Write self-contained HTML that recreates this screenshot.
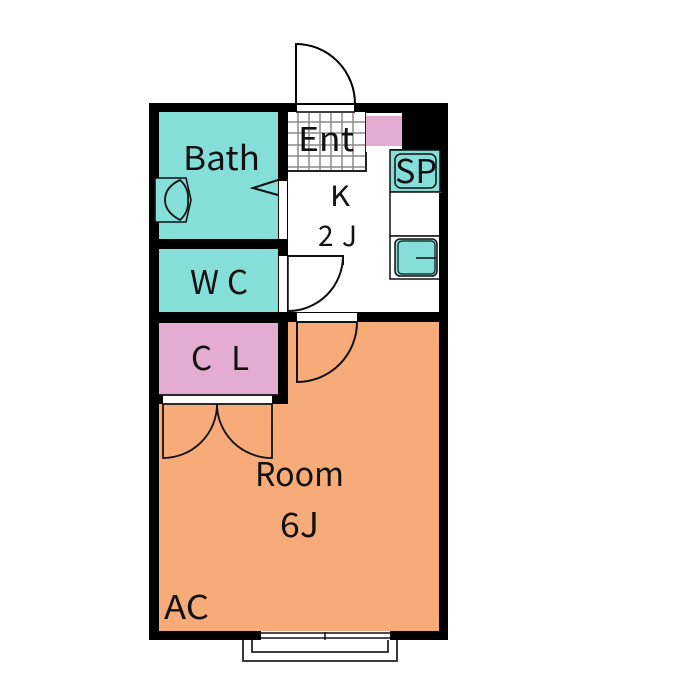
<!DOCTYPE html>
<html><head><meta charset="utf-8"><style>
html,body{margin:0;padding:0;background:#fff}
svg{display:block}
text{font-family:"Noto Sans CJK JP","Liberation Sans",sans-serif;fill:#111;text-anchor:middle}
</style></head><body>
<svg width="700" height="700" viewBox="0 0 700 700" xmlns="http://www.w3.org/2000/svg">
<rect x="149" y="103" width="299" height="537" fill="#000"/>
<rect x="159" y="112" width="119" height="127" fill="#85dfd8"/>
<rect x="159" y="249" width="119" height="63" fill="#85dfd8"/>
<path d="M159 404H288V322H439V631H159Z" fill="#f6ab78"/>
<rect x="159" y="323" width="119" height="72" fill="#e4acd0"/>
<path d="M288 112H366V150H390V239H439V312H288Z" fill="#fff"/>
<rect x="402" y="112" width="37" height="38" fill="#000"/>
<rect x="288" y="112" width="78" height="59" fill="#fff"/>
<g stroke="#8c8c8c" stroke-width="1.5" fill="none">
<path d="M298 112V171M309 112V171M320 112V171M331 112V171M342 112V171M353 112V171"/>
<path d="M288 122H366M288 133H366M288 145H366M288 156H366M288 167H366"/>
</g>
<path d="M288 171H366V112" fill="none" stroke="#222" stroke-width="2"/>
<rect x="296" y="104" width="58" height="9" fill="#fff"/>
<path d="M296 112V44A59 60 0 0 1 355 104M296 104H355" fill="none" stroke="#000" stroke-width="2"/>
<path d="M296 112H355" fill="none" stroke="#000" stroke-width="1.5"/>
<rect x="366" y="104" width="82" height="46" fill="#000"/>
<rect x="366" y="113" width="36" height="36" fill="#fff"/>
<rect x="366" y="116" width="36" height="30" fill="#e4acd0"/>
<rect x="366" y="148" width="24" height="4" fill="#fff"/>
<rect x="390" y="150" width="50" height="42" fill="#85dfd8" stroke="#111" stroke-width="1.5"/>
<rect x="395" y="154" width="41" height="34" rx="6" fill="none" stroke="#111" stroke-width="1.5"/>
<rect x="390" y="192" width="52" height="44" fill="#fff" stroke="#111" stroke-width="1.5"/>
<rect x="390" y="236" width="50" height="43" fill="#fff" stroke="#111" stroke-width="1.5"/>
<rect x="395" y="239" width="42" height="37" rx="5" fill="#85dfd8" stroke="#111" stroke-width="1.5"/>
<rect x="398" y="241" width="37" height="33" rx="4" fill="none" stroke="#111" stroke-width="1.2"/>
<path d="M416 258H436" stroke="#111" stroke-width="1.5"/>
<rect x="439" y="193" width="9" height="447" fill="#000"/>
<rect x="279" y="181" width="8" height="58" fill="#fff"/>
<rect x="279" y="256" width="8" height="56" fill="#fff"/>
<path d="M278 180L253 188L278 195" fill="none" stroke="#111" stroke-width="2"/>
<path d="M155 178H186L191 200L186 222H155Z" fill="#85dfd8" stroke="#111" stroke-width="1.6"/>
<path d="M180 180Q165 187 165 200Q165 212 180 220Q189 212 188 200Q189 188 180 180Z" fill="none" stroke="#111" stroke-width="1.8"/>
<path d="M288 256H343V265M343 256A55 55 0 0 1 288 311" fill="none" stroke="#111" stroke-width="2"/>
<path d="M288 256V311" stroke="#111" stroke-width="1.5"/>
<rect x="297" y="313" width="60" height="9" fill="#fff"/>
<path d="M297 322H357M297 322V382A60 60 0 0 0 357 322" fill="none" stroke="#111" stroke-width="2"/>
<rect x="163" y="395" width="109" height="9" fill="#fff"/>
<path d="M163 404H272M163 404V458A54 54 0 0 0 217 404M272 404V458A55 54 0 0 1 217 404M159 395H278" fill="none" stroke="#111" stroke-width="1.8"/>
<rect x="261" y="631" width="129" height="9" fill="#fff"/>
<path d="M261 633H390M261 638H390M325 632V640" fill="none" stroke="#111" stroke-width="1.5"/>
<path d="M243 640V661H397V640M252 640V652H388V640" fill="none" stroke="#222" stroke-width="1.8"/>
<text x="221.500" y="170" font-size="33" textLength="77" lengthAdjust="spacingAndGlyphs">Bath</text>
<text x="326" y="151" font-size="33" textLength="56" lengthAdjust="spacingAndGlyphs">Ent</text>
<text x="416" y="183" font-size="33" textLength="42" lengthAdjust="spacingAndGlyphs">SP</text>
<text x="340" y="206" font-size="28" textLength="20" lengthAdjust="spacingAndGlyphs">K</text>
<text x="337.500" y="246" font-size="28" textLength="39">2 J</text>
<text x="219" y="294" font-size="33" textLength="58">W C</text>
<text x="220" y="370" font-size="33" textLength="58" xml:space="preserve">C  L</text>
<text x="299.500" y="486" font-size="33" textLength="89" lengthAdjust="spacingAndGlyphs">Room</text>
<text x="299.500" y="537" font-size="34" textLength="39" lengthAdjust="spacingAndGlyphs">6J</text>
<text x="186.500" y="619" font-size="33" textLength="45" lengthAdjust="spacingAndGlyphs">AC</text>
</svg>
</body></html>
